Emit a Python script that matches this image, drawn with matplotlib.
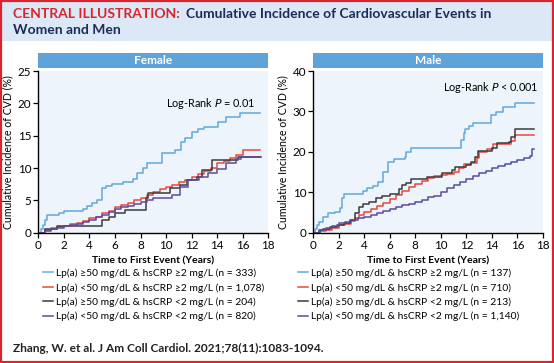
import matplotlib

matplotlib.use("Agg")

import matplotlib.pyplot as plt
from matplotlib.lines import Line2D
from matplotlib.patches import Rectangle

plt.rcParams["font.family"] = ["Lato", "DejaVu Sans"]

# ---- data (years, %) ----
f_blue_t = [0, 0.2, 0.35, 0.5, 0.65, 1.6, 2.0, 3.5, 3.8, 4.2, 4.6, 5.0, 5.3, 5.8, 6.6, 7.4, 7.7,
            8.2, 8.5, 9.65, 10.7, 11.2, 11.5, 12.0, 12.5, 13.0, 14.1, 14.7, 15.8, 17.35]
f_blue_v = [0, 0.5, 1.2, 2.0, 2.8, 3.1, 3.3, 3.6, 4.2, 4.6, 5.0, 6.9, 7.2, 7.6, 7.9, 8.3, 9.2,
            10.0, 10.7, 12.3, 12.8, 14.0, 14.6, 15.6, 16.1, 16.4, 17.1, 17.9, 18.5, 18.5]
f_red_t = [0, 0.5, 1, 1.5, 2, 2.5, 3, 3.5, 4, 4.5, 5, 5.5, 6, 6.5, 7, 7.5, 8, 8.5, 9, 9.5, 10,
           10.5, 11, 11.5, 12, 12.5, 13, 13.5, 14, 14.5, 15, 15.5, 16.05, 17.35]
f_red_v = [0, 0.4, 0.7, 0.9, 1.1, 1.3, 1.5, 1.8, 2.2, 2.5, 3.0, 3.4, 3.9, 4.3, 4.6, 5.0, 5.4,
           5.9, 6.3, 6.8, 7.1, 7.4, 7.8, 8.1, 8.6, 9.0, 9.5, 10.0, 10.7, 11.1, 11.5, 12.0, 12.8, 12.8]
f_black_t = [0, 0.5, 1.5, 5.0, 5.5, 6.0, 6.8, 8.4, 8.6, 10.3, 11.1, 11.6, 12.4, 12.8, 13.6, 15.6, 17.4]
f_black_v = [0, 0.5, 1.0, 2.0, 2.5, 3.0, 3.5, 5.3, 6.1, 6.9, 7.4, 8.1, 8.6, 9.7, 11.2, 11.7, 11.7]
f_purple_t = [0, 0.5, 1, 1.5, 2, 2.5, 3, 3.5, 4, 4.5, 5, 5.5, 6, 6.5, 7, 7.5, 8, 8.5, 9, 10.2,
              10.5, 11.1, 11.7, 12.6, 13.3, 14.0, 14.7, 15.5, 15.9, 17.35]
f_purple_v = [0, 0.3, 0.6, 0.8, 1.0, 1.2, 1.4, 1.7, 2.0, 2.4, 2.8, 3.2, 3.6, 3.9, 4.2, 4.5, 4.8,
              5.1, 5.3, 5.3, 5.8, 7.1, 8.1, 8.6, 9.2, 9.9, 10.7, 11.4, 11.7, 11.7]

m_blue_t = [0, 0.15, 0.3, 0.5, 0.8, 1.2, 1.7, 2.1, 2.25, 2.4, 3.9, 4.2, 4.7, 5.1, 5.45, 5.9, 6.3,
            7.2, 7.3, 7.7, 11.6, 11.8, 11.9, 12.2, 12.5, 13.9, 14.3, 14.9, 15.8, 17.3]
m_blue_v = [0, 1.0, 1.8, 2.7, 4.0, 4.8, 5.2, 6.0, 8.5, 9.5, 10.3, 11.0, 11.6, 12.6, 15.1, 17.6,
            18.3, 18.8, 20.0, 20.9, 22.9, 24.6, 25.6, 26.4, 27.2, 29.0, 29.9, 31.0, 32.1, 32.1]
m_red_t = [0, 0.5, 1, 1.5, 2, 2.5, 3, 3.3, 3.6, 4, 4.5, 5, 5.5, 6, 6.5, 7, 7.5, 8, 8.5, 9, 9.5,
           10, 10.5, 11, 11.4, 11.8, 12.4, 12.8, 13.0, 13.6, 14.1, 15.5, 15.8, 17.3]
m_red_v = [0, 0.3, 0.7, 1.2, 1.8, 2.2, 2.8, 3.6, 4.5, 5.2, 5.8, 6.6, 7.3, 8.3, 9.3, 10.3, 11.2,
           12.0, 12.8, 13.5, 14.0, 14.2, 14.5, 15.0, 16.0, 17.0, 17.3, 18.6, 20.0, 20.8, 22.0,
           22.6, 24.1, 24.1]
m_black_t = [0, 0.55, 0.8, 1.3, 1.85, 2.4, 2.9, 3.3, 3.6, 3.95, 4.35, 4.9, 5.4, 6.0, 6.7, 6.95,
             7.3, 7.7, 8.9, 10.1, 10.85, 11.1, 12.0, 12.4, 12.7, 12.9, 14.0, 14.4, 15.3, 15.5,
             15.8, 17.3]
m_black_v = [0, 0.7, 0.9, 1.4, 1.9, 2.3, 3.1, 4.8, 6.4, 7.1, 7.7, 8.5, 9.1, 9.5, 10.7, 11.8, 12.3,
             13.2, 13.9, 14.7, 15.5, 16.3, 16.8, 17.6, 18.8, 20.2, 21.0, 22.1, 22.5, 23.7, 25.6,
             25.6]
m_purple_t = [0, 0.5, 1, 1.5, 2, 2.5, 3, 3.5, 4, 4.5, 5, 5.5, 6, 6.5, 7, 7.5, 8, 8.5, 9, 9.5, 10,
              10.5, 11, 11.5, 12, 12.5, 13, 13.5, 14, 14.5, 15, 15.5, 16, 16.5, 17.0, 17.1, 17.3]
m_purple_v = [0, 0.6, 1.1, 1.7, 2.3, 2.7, 3.1, 3.6, 4.0, 4.5, 4.9, 5.4, 5.9, 6.4, 6.8, 7.2, 7.7,
              8.2, 8.8, 9.2, 10.0, 11.0, 11.9, 12.6, 13.4, 14.0, 14.7, 15.3, 15.9, 16.4, 16.9,
              17.4, 17.9, 18.4, 18.9, 20.6, 20.6]

female_n = ["333", "1,078", "204", "820"]
male_n = ["137", "710", "213", "1,140"]
groups = ["Lp(a) \u226550 mg/dL & hsCRP \u22652 mg/L",
          "Lp(a) <50 mg/dL & hsCRP \u22652 mg/L",
          "Lp(a) \u226550 mg/dL & hsCRP <2 mg/L",
          "Lp(a) <50 mg/dL & hsCRP <2 mg/L"]
colors = ["#62a8dc", "#e8473e", "#3b3b3b", "#5b4b9c"]
x_ticks = [0, 2, 4, 6, 8, 10, 12, 14, 16, 18]

RED = "#d7262e"
NAVY = "#1c2b5a"
BAR = "#5ea4d9"
AX_BG = "#edf4fc"
HEAD_BG = "#dce8f5"

W, H = 554, 363
fig = plt.figure(figsize=(W / 100, H / 100), dpi=100)


def px(x, y, w=0, h=0):
    # pixel box (from top-left) -> figure fraction rect
    return [x / W, 1 - (y + h) / H, w / W, h / H]


# header band and border
fig.add_artist(Rectangle((2 / W, 1 - 41 / H), 550 / W, 39 / H, transform=fig.transFigure,
                         facecolor=HEAD_BG, edgecolor="none", zorder=0))
fig.add_artist(Rectangle((1 / W, 1 / H), 552 / W, 361 / H, transform=fig.transFigure,
                         facecolor="none", edgecolor=RED, linewidth=1.6, zorder=5))

t1 = fig.text(13 / W, 1 - 14.5 / H, "CENTRAL ILLUSTRATION:", color=RED, fontsize=10.0,
              fontweight="bold", va="center", ha="left")
fig.canvas.draw()
bb = t1.get_window_extent()
fig.text((bb.x1 + 6) / W, 1 - 14.5 / H, "Cumulative Incidence of Cardiovascular Events in",
         color=NAVY, fontsize=10.0, fontweight="bold", va="center", ha="left")
fig.text(13 / W, 1 - 30.5 / H, "Women and Men", color=NAVY, fontsize=10.0,
         fontweight="bold", va="center", ha="left")

panels = [
    ("Female", 38.3, 25, [0, 5, 10, 15, 20, 25], "= 0.01", (0.943, 0.802),
     [(f_blue_t, f_blue_v), (f_red_t, f_red_v), (f_black_t, f_black_v), (f_purple_t, f_purple_v)],
     female_n, 43),
    ("Male", 313, 40, [0, 10, 20, 30, 40], "< 0.001", (0.98, 0.898),
     [(m_blue_t, m_blue_v), (m_red_t, m_red_v), (m_black_t, m_black_v), (m_purple_t, m_purple_v)],
     male_n, 298),
]

for title, left, ymax, yticks, pval, lr_pos, series, ns, leg_x in panels:
    ax = fig.add_axes(px(left, 71, 230, 161.7))
    ax.set_facecolor(AX_BG)
    for (t, v), c in zip(series, colors):
        ax.step(t, v, where="post", color=c, linewidth=1.1)
    ax.set_xlim(0, 18)
    ax.set_ylim(0, ymax)
    ax.set_xticks(x_ticks)
    ax.set_yticks(yticks)
    ax.tick_params(direction="out", length=3.5, width=0.9, labelsize=8.4, pad=1.5)
    for s in ["top", "right"]:
        ax.spines[s].set_visible(False)
    for s in ["left", "bottom"]:
        ax.spines[s].set_linewidth(1.0)
    ax.set_xlabel("Time to First Event (Years)", fontsize=7.5, fontweight="bold", labelpad=4)
    ax.set_ylabel("Cumulative Incidence of CVD (%)", fontsize=7.6, labelpad=3)
    ax.text(lr_pos[0], lr_pos[1], "Log-Rank $\\it{P}$ " + pval, transform=ax.transAxes,
            ha="right", va="center", fontsize=7.8)

    # panel title bar
    fig.add_artist(Rectangle((left / W, 1 - 68 / H), 230 / W, 15 / H, transform=fig.transFigure,
                             facecolor=BAR, edgecolor="none"))
    fig.text((left + 115) / W, 1 - 60.5 / H, title, color="white", fontsize=8.6,
             fontweight="bold", ha="center", va="center")

    handles = [Line2D([], [], color=c, linewidth=1.1) for c in colors]
    labels = [f"{g} (n = {n})" for g, n in zip(groups, ns)]
    fig.legend(handles, labels, loc="upper left",
               bbox_to_anchor=(leg_x / W, 1 - 268.5 / H), frameon=False, fontsize=7.4,
               handlelength=0.95, handletextpad=0.35, labelspacing=0.48, borderpad=0,
               borderaxespad=0)

fig.text(13 / W, 1 - 348.5 / H, "Zhang, W. et al. J Am Coll Cardiol. 2021;78(11):1083-1094.",
         color="#222222", fontsize=8.55, fontweight="bold", va="center", ha="left")

fig.savefig("out.png", dpi=100)
